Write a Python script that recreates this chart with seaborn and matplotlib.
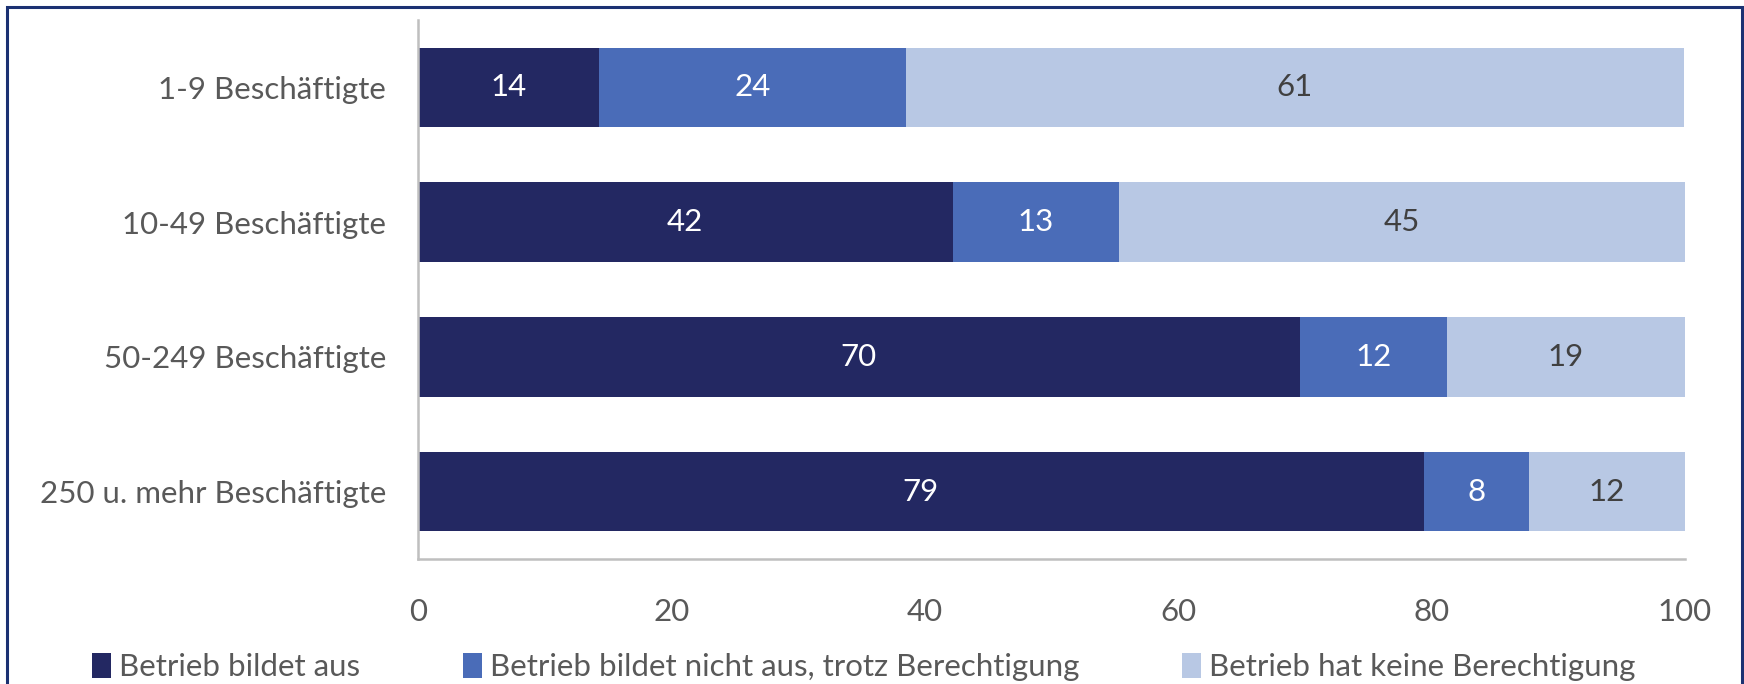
import matplotlib
matplotlib.use("Agg")
import matplotlib.pyplot as plt
import seaborn as sns
import pandas as pd
import numpy as np
from matplotlib.patches import Rectangle, Patch

categories = ["1-9 Beschäftigte", "10-49 Beschäftigte", "50-249 Beschäftigte", "250 u. mehr Beschäftigte"]
series_names = ["Betrieb bildet aus", "Betrieb bildet nicht aus, trotz Berechtigung", "Betrieb hat keine Berechtigung"]
bildet_aus = [14.3, 42.2, 69.6, 79.4]
nicht_aus = [24.2, 13.1, 11.6, 8.3]
keine_ber = [61.4, 44.7, 18.8, 12.3]
x_ticks = [0, 20, 40, 60, 80, 100]

colors = ["#232862", "#4A6CB8", "#B8C8E4"]
label_colors = ["white", "white", "#404040"]

sns.set_theme(style="white")
plt.rcParams["font.family"] = ["Lato", "DejaVu Sans"]

FS = 22.5

fig = plt.figure(figsize=(17.44, 6.84), dpi=100)
ax = fig.add_axes([418/1744, 1 - 559/684, (1685-418)/1744, (559-20)/684])

series = [bildet_aus, nicht_aus, keine_ber]
cums = np.cumsum(np.array(series), axis=0)
# draw from the total down so stacked segments show
for i in range(len(series) - 1, -1, -1):
    df = pd.DataFrame({"cat": categories, "val": cums[i]})
    sns.barplot(data=df, y="cat", x="val", orient="h", color=colors[i],
                width=0.59, saturation=1, ax=ax, linewidth=0, edgecolor="none")

for i, vals in enumerate(series):
    for j, v in enumerate(vals):
        center = cums[i][j] - v / 2
        ax.text(center, j, f"{v:.0f}", ha="center", va="center",
                color=label_colors[i], fontsize=FS)

ax.set_xlim(0, 100)
ax.set_ylim(len(categories) - 0.5, -0.5)
ax.set_xticks(x_ticks)
ax.set_xticklabels([str(t) for t in x_ticks])
ax.set_xlabel("")
ax.set_ylabel("")

for s in ["top", "right"]:
    ax.spines[s].set_visible(False)
for s in ["left", "bottom"]:
    ax.spines[s].set_color("#BFBFBF")
    ax.spines[s].set_linewidth(1.8)

ax.tick_params(axis="y", which="major", length=0, pad=23, labelsize=FS, labelcolor="#595959")
ax.set_yticks(np.arange(-0.5, len(categories), 1.0), minor=True)
ax.tick_params(axis="y", which="minor", length=10, width=1.8, color="#BFBFBF", direction="out")
ax.tick_params(axis="x", which="major", length=9, width=1.8, color="#BFBFBF", direction="out",
               labelsize=FS, labelcolor="#595959", pad=19)
ax.spines["bottom"].set_bounds(0, 100)

handles = [Patch(facecolor=c, edgecolor="none") for c in colors]
leg = fig.legend(handles, series_names, loc="lower left", bbox_to_anchor=(64/1744, -25/684),
                 ncol=3, frameon=False, fontsize=FS, handlelength=0.6, handleheight=0.85,
                 handletextpad=0.25, columnspacing=3.3, labelcolor="#595959")

fig.patches.append(Rectangle((7/1744, -0.05), (1742-7)/1744, 1.05 - 7/684,
                             transform=fig.transFigure, fill=False,
                             edgecolor="#1B3172", linewidth=2.2, zorder=10))

fig.savefig("out.png", dpi=100, facecolor="white")
